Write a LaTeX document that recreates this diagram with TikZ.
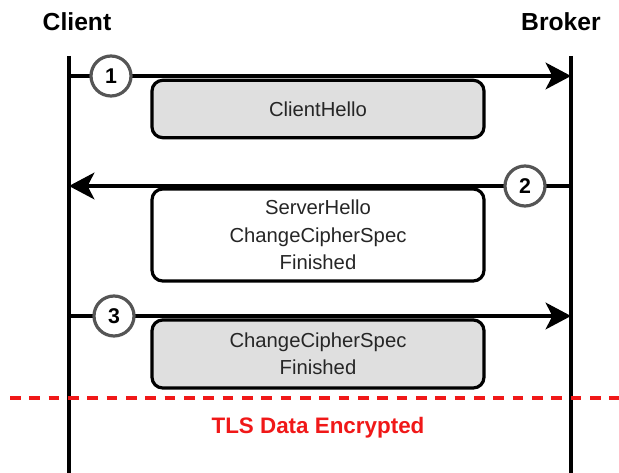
\documentclass[tikz,border=0pt]{standalone}
\usepackage{fontspec}
\setmainfont{Liberation Sans}
\usetikzlibrary{arrows.meta}
\definecolor{msg-gray}{HTML}{DFDFDF}
\definecolor{ring-gray}{HTML}{555555}
\definecolor{tls-red}{HTML}{F01818}
\tikzset{
    party/.style = {font=\fontsize{18.5}{22}\selectfont\bfseries},
    lifeline/.style = {line width=2.4pt},
    msg-arrow/.style = {line width=2.5pt, -{Stealth[length=19pt, width=20pt, inset=5pt]}},
    msg-box/.style = {draw, line width=2.4pt, rectangle, rounded corners=8pt, minimum width=249pt, align=center, text=black!85, font=\fontsize{15.2}{20.5}\selectfont},
    step-ring/.style = {draw=ring-gray, fill=white, circle, line width=2.4pt, minimum size=30pt, inner sep=0pt, font=\fontsize{16}{18}\selectfont\bfseries},
}

\begin{document}
\begin{tikzpicture}[x=0.75pt, y=-0.75pt]
\useasboundingbox (0,0) rectangle (619,473);

\node[party] (client) at (77,22) {Client};
\node[party] (broker) at (561,22) {Broker};

\coordinate (client-top) at (69,56);
\coordinate (client-bot) at (69,473);
\coordinate (broker-top) at (571,56);
\coordinate (broker-bot) at (571,473);
\draw[lifeline] (client-top) -- (client-bot);
\draw[lifeline] (broker-top) -- (broker-bot);

% 1: client -> broker
\coordinate (c1) at (69,76);
\coordinate (b1) at (571,76);
\draw[msg-arrow] (c1) -- (b1);
\node[step-ring] (ring1) at (111,76) {1};
\node[msg-box, fill=msg-gray, minimum height=43pt] (hello) at (318,109) {ClientHello};

% 2: broker -> client
\coordinate (c2) at (69,186);
\coordinate (b2) at (571,186);
\draw[msg-arrow] (b2) -- (c2);
\node[step-ring] (ring2) at (525,186) {2};
\node[msg-box, fill=white, minimum height=69pt] (reply) at (318,235) {ServerHello\\ChangeCipherSpec\\Finished};

% 3: client -> broker
\coordinate (c3) at (69,316);
\coordinate (b3) at (571,316);
\draw[msg-arrow] (c3) -- (b3);
\node[step-ring] (ring3) at (114,316) {3};
\node[msg-box, fill=msg-gray, minimum height=51pt] (finish) at (318,354) {ChangeCipherSpec\\Finished};

% encrypted from here on
\coordinate (sep-left) at (10,398);
\coordinate (sep-right) at (619,398);
\draw[tls-red, line width=3pt, dash pattern=on 8pt off 6.5pt] (sep-left) -- (sep-right);
\node[text=tls-red, font=\fontsize{16.8}{20}\selectfont\bfseries] (tls) at (318,428) {TLS Data Encrypted};
\end{tikzpicture}
\end{document}
